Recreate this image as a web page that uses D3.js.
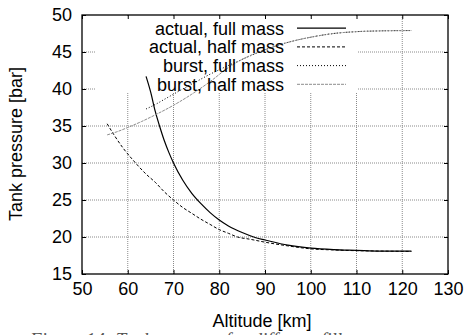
<!DOCTYPE html>
<html><head><meta charset="utf-8">
<script src="https://cdn.jsdelivr.net/npm/d3@7"></script>
<style>body{margin:0;background:#fff}svg{display:block}</style>
</head><body>
<svg id="c" width="469" height="335"></svg>
<script>
const xTicks = [50,60,70,80,90,100,110,120,130];
const yTicks = [15,20,25,30,35,40,45,50];
const seriesNames = ["actual, full mass","actual, half mass","burst, full mass","burst, half mass"];

const actualFullAlt = [64,65,66,67,68,69,70,72,74,76,78,80,82,85,88,90,95,100,105,110,115,122];
const actualFullP   = [41.7,39.6,37.0,34.9,33.0,31.4,30.0,27.7,25.9,24.5,23.3,22.3,21.5,20.6,19.9,19.6,18.9,18.5,18.3,18.2,18.1,18.1];

const actualHalfAlt = [55.5,57,59,61,62,64,66,68,70,72,74,76,78,80,82,84,86.7,90,95,100,105,110,115,122];
const actualHalfP   = [35.3,33.8,32.0,30.5,29.8,28.5,27.4,26.1,25.0,24.0,23.2,22.4,21.7,21.0,20.5,20.0,19.7,19.3,18.8,18.4,18.25,18.15,18.1,18.05];

const burstFullAlt = [64,66,68,70,72,75,78,80,85,90,95,100,105,110,115,122];
const burstFullP   = [37.3,37.9,38.6,39.3,40.0,41.0,42.0,42.6,44.0,45.3,46.3,47.0,47.5,47.75,47.85,47.9];

const burstHalfAlt = [55.5,58,60,63,66,70,74,78,82,85,90,95,100,105,110,115,122];
const burstHalfP   = [33.8,34.3,34.8,35.6,36.5,37.8,39.3,41.0,42.9,44.0,45.3,46.3,47.0,47.5,47.75,47.85,47.9];

const svg = d3.select("#c");
const L=82,R=448,T=15,B=274;
const x = d3.scaleLinear().domain([50,130]).range([L,R]);
const y = d3.scaleLinear().domain([15,50]).range([B,T]);
const font = "'Liberation Sans', Arial, sans-serif";

// grid
const g = svg.append("g");
g.selectAll(".gx").data(xTicks.slice(1,-1)).enter().append("line")
 .attr("x1",d=>x(d)).attr("x2",d=>x(d)).attr("y1",T).attr("y2",B)
 .attr("stroke","#8a8a8a").attr("stroke-width",1).attr("stroke-dasharray","1,1");
g.selectAll(".gy").data(yTicks.slice(1,-1)).enter().append("line")
 .attr("y1",d=>y(d)).attr("y2",d=>y(d)).attr("x1",L).attr("x2",R)
 .attr("stroke","#8a8a8a").attr("stroke-width",1).attr("stroke-dasharray","1,1");
// key area hides grid
svg.append("rect").attr("x",96).attr("y",T+1).attr("width",261).attr("height",77).attr("fill","#fff");

// axes ticks inside
const axB = d3.axisBottom(x).tickValues(xTicks).tickSizeInner(-4).tickSizeOuter(0).tickPadding(8);
const axT = d3.axisTop(x).tickValues(xTicks).tickSizeInner(-4).tickSizeOuter(0).tickFormat("");
const axL = d3.axisLeft(y).tickValues(yTicks).tickSizeInner(-4).tickSizeOuter(0).tickPadding(10);
const axR = d3.axisRight(y).tickValues(yTicks).tickSizeInner(-4).tickSizeOuter(0).tickFormat("");
function style(sel){ sel.select(".domain").remove(); sel.selectAll("line").attr("stroke","#000");
  sel.selectAll("text").attr("font-family",font).attr("font-size","18px").attr("fill","#000"); }
svg.append("g").attr("transform",`translate(0,${B})`).call(axB).call(style);
svg.append("g").attr("transform",`translate(0,${T})`).call(axT).call(style);
svg.append("g").attr("transform",`translate(${L},0)`).call(axL).call(style);
svg.append("g").attr("transform",`translate(${R},0)`).call(axR).call(style);
svg.append("rect").attr("x",L).attr("y",T).attr("width",R-L).attr("height",B-T)
 .attr("fill","none").attr("stroke","#000").attr("stroke-width",1.3);

// series
const styles = [
 {stroke:"#000",dash:null,w:1.2},
 {stroke:"#000",dash:"3,2",w:1},
 {stroke:"#000",dash:"1,2",w:1},
 {stroke:"#8c8c8c",dash:"3,1",w:1}
];
const data = [
 d3.zip(actualFullAlt,actualFullP),
 d3.zip(actualHalfAlt,actualHalfP),
 d3.zip(burstFullAlt,burstFullP),
 d3.zip(burstHalfAlt,burstHalfP)
];
const line = d3.line().x(d=>x(d[0])).y(d=>y(d[1])).curve(d3.curveMonotoneX);
data.forEach((s,i)=>{
  svg.append("path").attr("d",line(s)).attr("fill","none")
   .attr("stroke",styles[i].stroke).attr("stroke-width",styles[i].w)
   .attr("stroke-dasharray",styles[i].dash);
});

// legend
seriesNames.forEach((n,i)=>{
  const yy = 28.2 + i*18.7;
  svg.append("text").attr("x",284).attr("y",yy).attr("dy","0.35em").attr("text-anchor","end")
   .attr("font-family",font).attr("font-size","18px").text(n);
  svg.append("line").attr("x1",297).attr("x2",346).attr("y1",yy).attr("y2",yy)
   .attr("stroke",styles[i].stroke).attr("stroke-width",styles[i].w).attr("stroke-dasharray",styles[i].dash);
});

// titles
svg.append("text").attr("x",262).attr("y",327).attr("text-anchor","middle")
 .attr("font-family",font).attr("font-size","18px").text("Altitude [km]");
svg.append("text").attr("transform","translate(22,144) rotate(-90)").attr("text-anchor","middle")
 .attr("font-family",font).attr("font-size","18px").text("Tank pressure [bar]");
// caption (cut off at bottom, as in the reference)
svg.append("text").attr("x",30).attr("y",346).attr("font-family","'Liberation Serif', serif")
 .attr("font-style","italic").attr("font-size","19px").attr("fill","#555")
 .text("Figure 14: Tank pressure for different fill");
</script>
</body></html>
